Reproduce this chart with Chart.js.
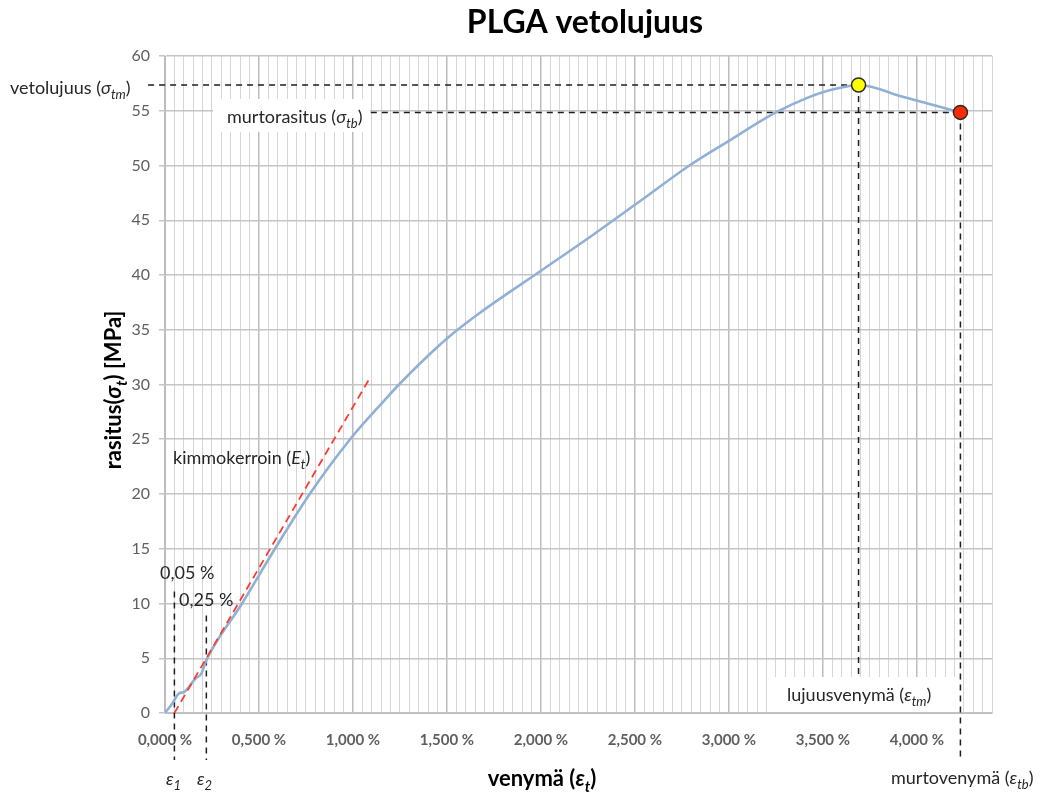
<!DOCTYPE html>
<html>
<head>
<meta charset="utf-8">
<script src="https://cdn.jsdelivr.net/npm/chart.js@4"></script>
<style>
  html, body { margin: 0; padding: 0; background: #fff; }
  #wrap { width: 1040px; height: 794px; position: relative; }
</style>
</head>
<body>
<div id="wrap"><canvas id="chart"></canvas></div>
<script>
// Measured curve: strain [%] vs stress [MPa]
const strainPct = [0, 0.04, 0.075, 0.10, 0.165, 0.19, 0.225, 0.41, 0.585, 0.77, 0.985, 1.17, 1.245,
  1.50, 1.68, 2.01, 2.28, 2.58, 2.79, 3.005, 3.245, 3.42, 3.53, 3.62, 3.69, 3.93, 4.232];
const stressMPa = [0, 0.9, 1.8, 1.9, 3.2, 3.5, 5.0, 10.0, 15.0, 20.0, 25.0, 28.6, 30.0,
  34.2, 36.6, 40.5, 43.7, 47.4, 50.0, 52.3, 54.8, 56.2, 56.85, 57.2, 57.35, 56.25, 54.85];

// Tangent line for the modulus (kimmokerroin)
const modulusStrain = [0.05, 1.09];
const modulusStress = [0, 30.6];

// Marked points: tensile strength (yellow) and break (red)
const markerStrain = [3.69, 4.232];
const markerStress = [57.35, 54.85];

// Guide lines (dashed), start/end in data units
const guideStrainEps = [0.05, 0.22];      // epsilon 1 and 2
const guideEpsTop = [11.1, 8.9];
const guideBelowAxis = -4.3;
const guideTmLeft = -0.09;
const guideTbLeft = 1.095;
const guideTmBottom = 3.2;

const yTicksMax = 60;
const xMax = 4.4;

const toPoints = (xs, ys) => xs.map((x, i) => ({ x, y: ys[i] }));

const guide = (pts) => ({
  data: pts,
  borderColor: '#1e1e1e',
  borderWidth: 1.5,
  borderDash: [6, 5],
  pointRadius: 0,
  clip: false,
  order: 4
});

const guides = [
  guide([{ x: guideTmLeft, y: markerStress[0] }, { x: markerStrain[0], y: markerStress[0] }]),
  guide([{ x: guideTbLeft, y: markerStress[1] }, { x: markerStrain[1], y: markerStress[1] }]),
  guide([{ x: markerStrain[0], y: markerStress[0] }, { x: markerStrain[0], y: guideTmBottom }]),
  guide([{ x: markerStrain[1], y: markerStress[1] }, { x: markerStrain[1], y: guideBelowAxis }]),
  guide([{ x: guideStrainEps[0], y: guideEpsTop[0] }, { x: guideStrainEps[0], y: guideBelowAxis }]),
  guide([{ x: guideStrainEps[1], y: guideEpsTop[1] }, { x: guideStrainEps[1], y: guideBelowAxis }])
];

const FONT = 'Lato, "Open Sans", sans-serif';
const TEXT = '#262626';

// draw text made of parts: [string, kind] kind: '' normal, 'i' italic, 's' italic subscript
function richText(ctx, parts, x, y, size, opts = {}) {
  const weight = opts.bold ? 'bold ' : '';
  const fontFor = (kind) => {
    if (kind === 's') return `italic ${weight}${Math.round(size * 0.7)}px ${FONT}`;
    if (kind === 'i') return `italic ${weight}${size}px ${FONT}`;
    return `${weight}${size}px ${FONT}`;
  };
  let total = 0;
  parts.forEach(([t, k]) => { ctx.font = fontFor(k); total += ctx.measureText(t).width; });
  let cx = opts.align === 'center' ? x - total / 2 : opts.align === 'right' ? x - total : x;
  ctx.textAlign = 'left';
  ctx.textBaseline = 'alphabetic';
  parts.forEach(([t, k]) => {
    ctx.font = fontFor(k);
    ctx.fillText(t, cx, k === 's' ? y + size * 0.25 : y);
    cx += ctx.measureText(t).width;
  });
}

const annotations = {
  id: 'annotations',
  beforeDatasetsDraw(chart) {
    const ctx = chart.ctx;
    ctx.save();
    ctx.fillStyle = '#ffffff';
    ctx.fillRect(213, 99, 157, 33);
    ctx.fillRect(775, 677, 183, 35);
    ctx.restore();
  },
  afterDraw(chart) {
    const ctx = chart.ctx;
    ctx.save();
    ctx.fillStyle = '#000';
    ctx.font = `bold 32px ${FONT}`;
    ctx.textAlign = 'center';
    ctx.fillText('PLGA vetolujuus', 585, 33);

    ctx.fillStyle = TEXT;
    richText(ctx, [['vetolujuus (', ''], ['σ', 'i'], ['tm', 's'], [')', '']], 10, 94, 18);
    richText(ctx, [['murtorasitus (', ''], ['σ', 'i'], ['tb', 's'], [')', '']], 227, 123, 18);
    richText(ctx, [['kimmokerroin (', ''], ['E', 'i'], ['t', 's'], [')', '']], 173, 464, 18);
    richText(ctx, [['0,05 %', '']], 160, 579, 18);
    richText(ctx, [['0,25 %', '']], 179, 606, 18);
    richText(ctx, [['lujuusvenymä (', ''], ['ε', 'i'], ['tm', 's'], [')', '']], 787, 701, 18);
    richText(ctx, [['murtovenymä (', ''], ['ε', 'i'], ['tb', 's'], [')', '']], 891, 784, 18);
    richText(ctx, [['ε', 'i'], ['1', 's']], 166, 785, 18);
    richText(ctx, [['ε', 'i'], ['2', 's']], 197, 785, 18);

    ctx.fillStyle = '#000';
    richText(ctx, [['venymä (', ''], ['ε', 'i'], ['t', 's'], [')', '']], 542, 786, 22, { bold: true, align: 'center' });

    ctx.translate(121, 390);
    ctx.rotate(-Math.PI / 2);
    richText(ctx, [['rasitus(', ''], ['σ', 'i'], ['t', 's'], [') [MPa]', '']], 0, 0, 22, { bold: true, align: 'center' });
    ctx.restore();
  }
};

const isMajor = (v) => Math.round(v * 1000) % 500 === 0;

new Chart(document.getElementById('chart'), {
  type: 'line',
  data: {
    datasets: [
      {
        data: toPoints(markerStrain, markerStress),
        showLine: false,
        pointRadius: 7,
        pointBorderWidth: 1.5,
        pointBorderColor: '#2b2b2b',
        pointBackgroundColor: ['#ffff00', '#ff2a00'],
        clip: false,
        order: 0
      },
      {
        data: toPoints(modulusStrain, modulusStress),
        borderColor: '#ff3b30',
        borderWidth: 1.8,
        borderDash: [8, 5],
        pointRadius: 0,
        order: 1
      },
      {
        data: toPoints(strainPct, stressMPa),
        borderColor: '#90b0d6',
        borderWidth: 2.6,
        pointRadius: 0,
        cubicInterpolationMode: 'monotone',
        order: 2
      },
      ...guides
    ]
  },
  plugins: [annotations],
  options: {
    responsive: true,
    maintainAspectRatio: false,
    animation: false,
    layout: { padding: { top: 56, right: 48, left: 0, bottom: 0 } },
    plugins: {
      legend: { display: false },
      tooltip: { enabled: false },
      title: { display: false }
    },
    scales: {
      x: {
        type: 'linear',
        min: 0,
        max: xMax,
        afterFit: (scale) => { scale.height = 81; },
        border: { color: '#bdbdbd' },
        grid: {
          drawTicks: false,
          color: (c) => (c.tick && isMajor(c.tick.value) ? '#bcbcbc' : '#d6d6d6'),
          lineWidth: (c) => (c.tick && isMajor(c.tick.value) ? 1.5 : 1)
        },
        ticks: {
          stepSize: 0.05,
          autoSkip: false,
          maxRotation: 0,
          padding: 18,
          color: '#5f5f5f',
          font: { family: FONT, size: 15, weight: 'bold' },
          callback: (v) => (isMajor(v) ? v.toFixed(3).replace('.', ',') + ' %' : '')
        }
      },
      y: {
        type: 'linear',
        min: 0,
        max: yTicksMax,
        afterFit: (scale) => { scale.width = 165; },
        border: { color: '#bdbdbd' },
        grid: { color: '#c4c4c4', lineWidth: 1.5, tickLength: 6 },
        ticks: {
          stepSize: 5,
          padding: 9,
          color: '#5f5f5f',
          font: { family: FONT, size: 16 }
        }
      }
    }
  }
});
</script>
</body>
</html>
